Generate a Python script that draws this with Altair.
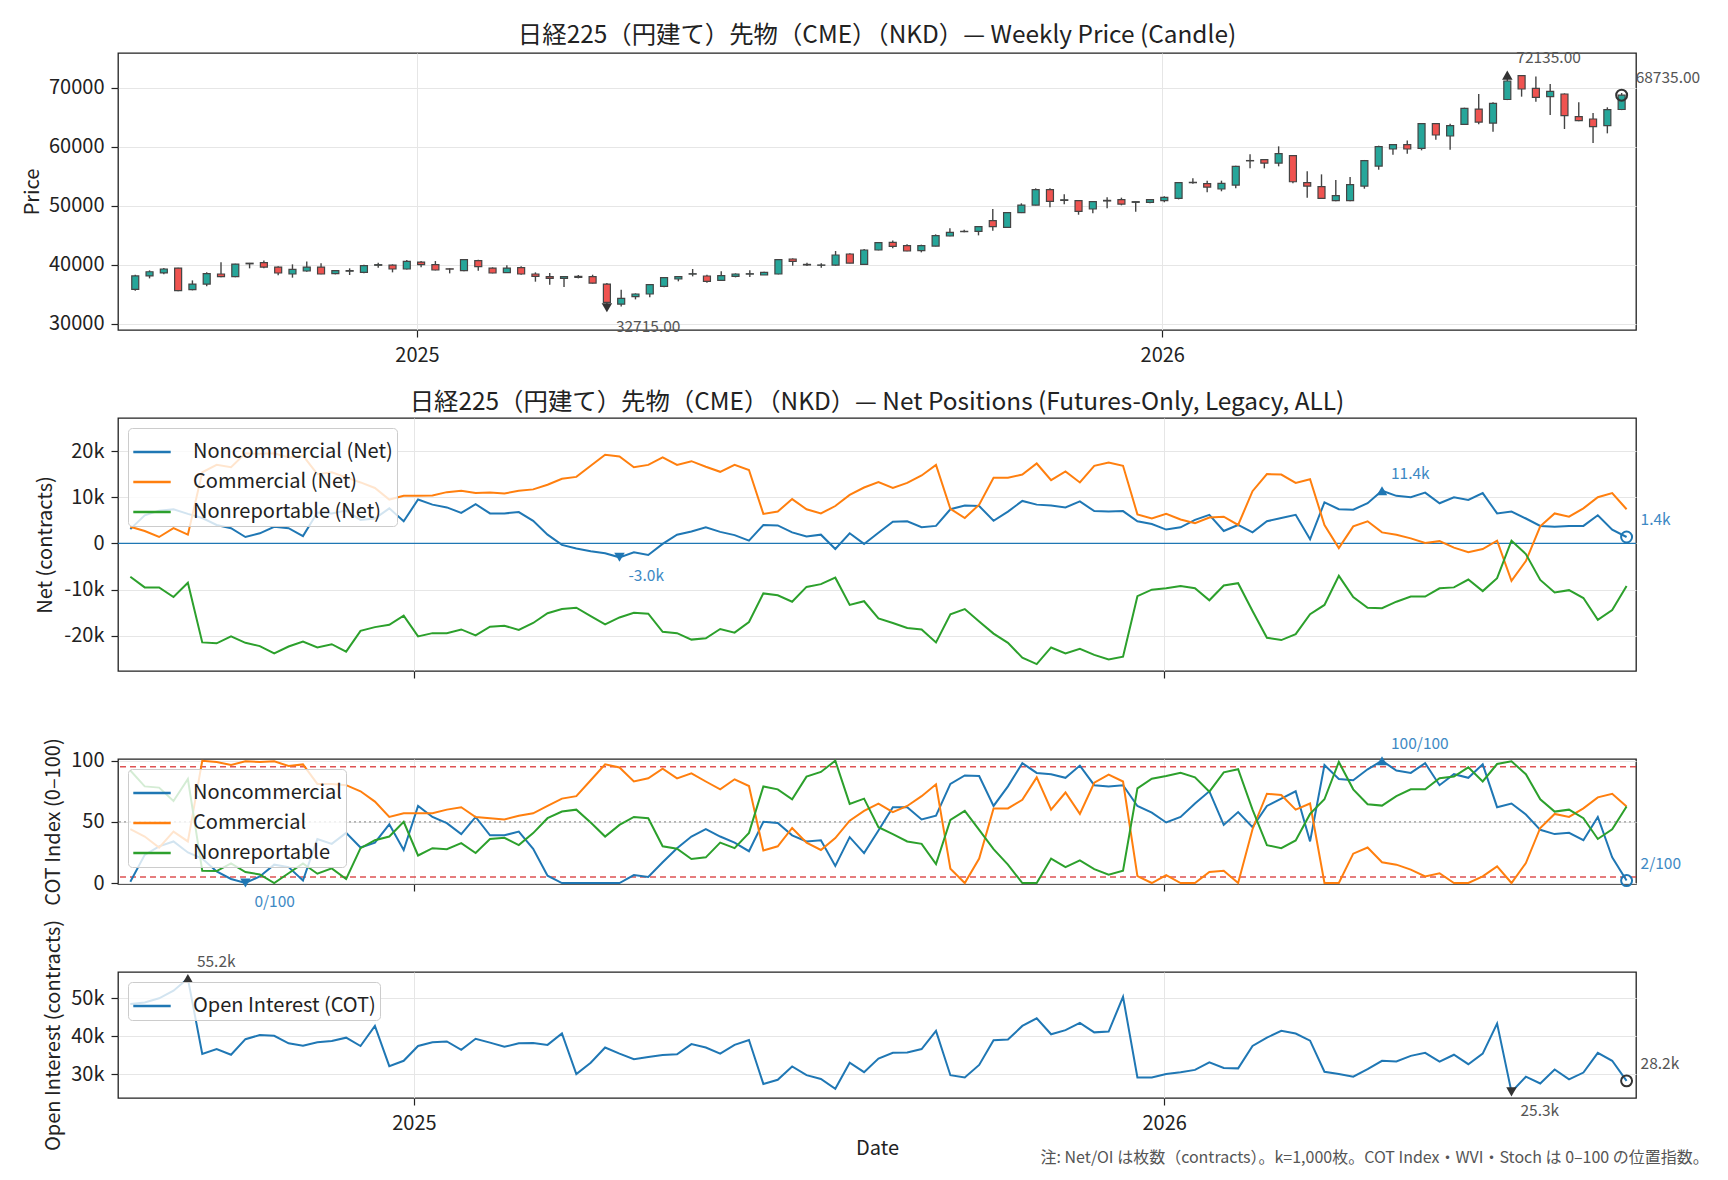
import altair as alt
import numpy as np
import pandas as pd

FONT = "Noto Sans CJK JP"
INK = "#222222"
BLUE, ORANGE, GREEN = "#1f77b4", "#ff7f0e", "#2ca02c"

# ---------------- data ----------------
first_week = "2024-08-16"
n_weeks = 105
dates = pd.date_range(first_week, periods=n_weeks, freq="7D").strftime("%Y-%m-%d").tolist()

price_open = [
    35800, 38100, 38600, 39430, 35760, 36720, 38420, 37970, 40150, 40340,
    39600, 38420, 38930, 39600, 38480, 38900, 38700, 39900, 39940, 39270,
    40450, 40000, 39300, 38980, 40680, 39430, 38640, 39490, 38420, 37970,
    37680, 37850, 37970, 36720, 33300, 34580, 35030, 36330, 37570, 38400,
    38080, 37340, 38020, 38400, 38250, 38420, 40960, 40050, 39900, 39940,
    41810, 40060, 42490, 43790, 43220, 42370, 43160, 44860, 45600, 45650,
    47460, 46330, 48810, 50110, 52710, 50900, 50850, 49440, 50800, 51020,
    50570, 50570, 50850, 51240, 53900, 53730, 52830, 53500, 57600, 57800,
    57230, 58470, 53900, 53220, 50850, 50850, 53330, 56720, 59610, 60340,
    59720, 63900, 61810, 63790, 66380, 64010, 68000, 72040, 69890, 68480,
    68930, 65090, 64690, 63560, 66300]
price_high = [
    38300, 39040, 39430, 39500, 37340, 38700, 40400, 40170, 40300, 40730,
    39720, 40060, 40560, 40230, 39100, 39380, 40000, 40340, 40060, 40790,
    40620, 40620, 39380, 40960, 40850, 39550, 39890, 39720, 38700, 38590,
    37970, 38250, 38300, 36900, 35760, 35140, 36720, 37910, 38020, 39270,
    38300, 38870, 38530, 39040, 38810, 40960, 41070, 40340, 40230, 42320,
    41920, 42660, 43840, 44120, 43450, 43390, 45140, 46160, 45930, 46550,
    49440, 48920, 50400, 52940, 52940, 51920, 50960, 50790, 51410, 51360,
    50680, 51130, 51580, 54010, 54630, 54240, 54240, 56780, 58700, 57910,
    60060, 58590, 55820, 55310, 54350, 54860, 57750, 60170, 60450, 61070,
    64010, 64010, 63900, 66610, 68930, 67520, 72135, 72100, 71900, 70620,
    69040, 67520, 65710, 66670, 69100]
price_low = [
    35600, 37680, 38360, 35480, 35650, 36330, 37850, 37850, 39380, 39380,
    38190, 37800, 38800, 38360, 38360, 38250, 38530, 39490, 38700, 39200,
    39550, 39040, 38530, 38870, 38980, 38530, 38590, 38300, 37120, 36610,
    36210, 37680, 36800, 32715, 32900, 34120, 34460, 36160, 37180, 38020,
    36950, 37290, 37850, 37910, 38250, 38360, 39830, 39770, 39490, 39830,
    40230, 40000, 42430, 42770, 42260, 42090, 43110, 44800, 45480, 44970,
    45760, 46270, 48750, 50060, 49720, 50230, 48470, 48700, 49550, 50060,
    48980, 50400, 50570, 51070, 53730, 52260, 52440, 52940, 56330, 56330,
    56670, 53790, 51360, 51180, 50740, 50740, 52880, 56100, 58640, 58810,
    59380, 61190, 59490, 63680, 63790, 62550, 67900, 68480, 67630, 65370,
    63000, 64300, 60620, 62260, 66200]
price_close = [
    38100, 38800, 39270, 35600, 36720, 38470, 37970, 40110, 40250, 39600,
    38590, 39210, 39600, 38420, 38980, 39000, 39830, 40000, 39270, 40560,
    40000, 39100, 39250, 40850, 39660, 38590, 39430, 38420, 38020, 37680,
    37970, 38020, 36890, 33600, 34290, 35030, 36610, 37800, 37970, 38470,
    37180, 38140, 38420, 38470, 38700, 40850, 40560, 39950, 39950, 41640,
    40280, 42490, 43730, 43110, 42320, 43220, 44920, 45480, 45650, 46440,
    46440, 48810, 50110, 52710, 50740, 51000, 49040, 50680, 50900, 50280,
    50680, 51020, 51410, 53900, 53960, 53160, 53790, 56670, 57650, 57230,
    58810, 54060, 53330, 51240, 51700, 53560, 57630, 60000, 60340, 59610,
    63900, 61980, 63560, 66500, 64180, 67350, 71130, 69780, 68360, 69380,
    65255, 64410, 63390, 66270, 68735]

# net positions, thousands of contracts
net_noncomm_k = [
    3.1, 6.1, 7.1, 7.4, 6.4, 5.5, 4.0, 3.3, 1.4, 2.2,
    3.6, 3.3, 1.6, 6.7, 6.5, 7.1, 5.1, 5.4, 7.6, 4.8,
    9.5, 8.4, 7.8, 6.6, 8.5, 6.5, 6.5, 6.8, 4.9, 1.9,
    -0.3, -1.1, -1.7, -2.1, -3.0, -1.9, -2.5, -0.1, 1.9, 2.6,
    3.5, 2.5, 1.8, 0.6, 4.0, 3.9, 2.4, 1.5, 1.9, -1.2,
    2.2, -0.1, 2.3, 4.7, 4.8, 3.5, 3.8, 7.4, 8.2, 8.1,
    4.9, 6.9, 9.2, 8.4, 8.2, 7.8, 9.1, 7.0, 6.9, 7.0,
    4.8, 4.2, 3.0, 3.5, 5.1, 6.2, 2.7, 4.0, 2.4, 4.8,
    5.5, 6.2, 0.9, 8.9, 7.4, 7.3, 8.7, 11.4, 10.3, 10.0,
    11.0, 8.7, 10.0, 9.4, 10.9, 6.5, 6.9, 5.4, 3.8, 3.6,
    3.8, 3.8, 6.1, 3.0, 1.4]
net_comm_k = [
    3.6, 2.7, 1.4, 3.3, 1.9, 15.4, 17.0, 16.5, 19.5, 19.4,
    19.5, 18.6, 19.0, 15.0, 15.4, 14.3, 13.2, 12.0, 9.5, 10.3,
    10.3, 10.4, 11.1, 11.4, 10.9, 11.0, 10.8, 11.4, 11.7, 12.7,
    14.0, 14.4, 16.8, 19.2, 18.8, 16.5, 17.0, 18.6, 17.0, 17.8,
    16.6, 15.5, 17.0, 15.9, 6.4, 6.9, 9.6, 7.4, 6.5, 8.1,
    10.5, 12.1, 13.3, 12.0, 13.1, 14.7, 17.0, 7.5, 5.5, 8.4,
    14.2, 14.2, 14.9, 17.3, 13.7, 15.6, 13.2, 16.8, 17.5, 16.8,
    6.3, 5.4, 6.4, 5.2, 4.4, 5.6, 5.8, 4.0, 11.3, 15.0,
    14.9, 13.1, 13.9, 4.0, -1.0, 3.7, 4.8, 2.4, 1.9, 1.1,
    0.1, 0.5, -0.9, -1.9, -1.2, 0.6, -8.1, -3.8, 3.7, 6.5,
    5.8, 7.6, 10.0, 10.9, 7.4]
net_nonrep_k = [
    -7.2, -9.5, -9.5, -11.6, -8.5, -21.4, -21.6, -20.1, -21.5, -22.2,
    -23.8, -22.3, -21.2, -22.5, -21.8, -23.4, -18.9, -18.1, -17.6, -15.6,
    -20.1, -19.4, -19.4, -18.6, -19.9, -18.0, -17.8, -18.7, -17.2, -15.1,
    -14.2, -13.9, -15.7, -17.5, -16.0, -15.0, -15.2, -19.1, -19.4, -20.8,
    -20.5, -18.5, -19.3, -17.0, -10.8, -11.2, -12.6, -9.4, -8.8, -7.4,
    -13.3, -12.5, -16.2, -17.2, -18.3, -18.6, -21.4, -15.3, -14.2, -16.9,
    -19.5, -21.5, -24.7, -26.1, -22.5, -23.8, -22.8, -24.1, -25.1, -24.5,
    -11.4, -10.0, -9.7, -9.2, -9.7, -12.3, -9.1, -8.6, -14.6, -20.4,
    -20.9, -19.6, -15.3, -13.3, -7.0, -11.6, -13.9, -14.0, -12.6, -11.5,
    -11.5, -9.7, -9.5, -7.8, -10.3, -7.5, 0.6, -2.3, -7.9, -10.6,
    -10.1, -11.8, -16.5, -14.4, -9.2]

# COT index 0-100
idx_noncomm = [
    1, 23, 30, 34, 25, 20, 9.5, 3.3, 0, 5.4,
    15, 13, 2, 36, 32, 41, 29, 33, 48, 27,
    63, 54, 49, 40, 54, 39, 39, 42, 28, 6,
    0, 0, 0, 0, 0, 6.5, 5, 17, 28.5, 38,
    44, 38, 33, 26, 50, 49, 39, 34, 35, 14,
    37.5, 24.5, 43, 62, 62, 52, 55, 81, 88, 87.5,
    63, 79, 98, 90, 89, 86, 96, 80, 79, 80,
    63, 57.6, 49.5, 54, 65, 75, 47.5, 58, 45.7, 63,
    69, 75, 34, 96.5, 85, 84, 93, 100, 92, 90,
    98, 80, 89, 86, 97, 62, 65, 56, 43.5, 40,
    41, 35, 54, 21, 2]
idx_comm = [
    44, 38, 29, 42, 34, 100, 99, 96.5, 99.5, 99,
    99.5, 95.7, 97, 81, 81, 80, 75, 66.6, 54, 57,
    57, 57, 60, 62, 54, 53, 52, 55, 57, 63,
    69, 71, 84, 97, 94.5, 83, 85.6, 93.5, 85.6, 89.7,
    83, 76.6, 84.8, 79.3, 26.6, 30, 45, 33, 27, 36.7,
    51, 59, 65, 58, 63, 71, 80.7, 11.7, 0, 20,
    61, 61, 68, 86.4, 60, 74, 56.5, 82, 88.6, 83,
    5.6, 0, 6.5, 0, 0, 9, 10, 0, 44, 73,
    72, 60, 65, 0, 0, 24, 29, 17, 15, 11,
    5.4, 8, 0, 0, 5.4, 13.6, 0, 16.3, 45, 56.5,
    54, 61, 70, 73, 62.5]
idx_nonrep = [
    92, 79, 78, 67, 85, 10, 9.8, 16, 9, 7,
    0, 8, 16, 7.6, 12, 3.3, 28.5, 35, 38, 50,
    22.5, 28.5, 27.7, 32.6, 24.5, 36, 37, 31, 40.8, 53,
    58.4, 60, 49.5, 38, 47.5, 54, 53, 30, 28, 19.6,
    21, 33, 28.5, 41, 79, 76.6, 68.5, 87, 90.8, 100,
    64.7, 69, 45.7, 40, 34, 32, 15.5, 51.6, 59, 43.5,
    27.7, 15, 0, 0, 20, 13, 18.5, 11.4, 6.8, 10,
    77.4, 85.3, 87.5, 90.2, 86.4, 74.7, 90.5, 93, 60, 31,
    28.5, 34.8, 56.5, 68.5, 99, 76.6, 64.4, 63.3, 71, 76.6,
    76.6, 85.6, 87, 94.6, 83, 97.3, 99.5, 89, 68.5, 58.4,
    60, 53, 36, 44, 62.5]

# open interest, thousands of contracts
open_interest_k = [
    48.5, 48.9, 50.0, 52.0, 55.2, 35.3, 36.6, 35.1, 39.2, 40.3,
    40.1, 38.1, 37.5, 38.4, 38.7, 39.6, 37.4, 42.7, 32.1, 33.5,
    37.4, 38.4, 38.6, 36.4, 39.3, 38.3, 37.2, 38.1, 38.2, 37.7,
    40.7, 30.0, 33.0, 37.0, 35.4, 33.9, 34.5, 35.0, 35.2, 37.9,
    37.0, 35.4, 37.7, 39.0, 27.4, 28.5, 32.0, 29.7, 28.7, 26.1,
    33.0, 30.5, 34.1, 35.6, 35.7, 36.6, 41.4, 29.7, 29.1, 32.4,
    38.9, 39.1, 42.7, 44.7, 40.5, 41.6, 43.5, 41.0, 41.2, 50.4,
    29.1, 29.1, 30.0, 30.5, 31.1, 33.1, 31.6, 31.5, 37.4, 39.6,
    41.4, 40.7, 38.8, 30.6, 30.0, 29.3, 31.3, 33.5, 33.3, 34.8,
    35.6, 33.3, 35.1, 32.6, 35.4, 43.3, 25.3, 29.3, 27.5, 31.2,
    28.6, 30.4, 35.6, 33.5, 28.2]

price_ticks = [30000, 40000, 50000, 60000, 70000]
net_ticks = [-20000, -10000, 0, 10000, 20000]
idx_ticks = [0, 50, 100]
oi_ticks = [30000, 40000, 50000]
idx_band_levels = [5, 95]
idx_mid_level = [50]
net_zero_level = [0]

title_price = "日経225（円建て）先物（CME）（NKD）— Weekly Price (Candle)"
title_net = "日経225（円建て）先物（CME）（NKD）— Net Positions (Futures-Only, Legacy, ALL)"
net_names = ["Noncommercial (Net)", "Commercial (Net)", "Nonreportable (Net)"]
idx_names = ["Noncommercial", "Commercial", "Nonreportable"]
oi_name = "Open Interest (COT)"
footnote = "注: Net/OI は枚数（contracts）。k=1,000枚。COT Index・WVI・Stoch は 0–100 の位置指数。"

for arr in [price_open, price_high, price_low, price_close, net_noncomm_k, net_comm_k,
            net_nonrep_k, idx_noncomm, idx_comm, idx_nonrep, open_interest_k]:
    assert len(arr) == n_weeks, len(arr)

# ---------------- tables ----------------
candles = pd.DataFrame({"date": dates, "open": price_open, "high": price_high,
                        "low": price_low, "close": price_close})
candles["dir"] = np.where(candles["close"] >= candles["open"], "up", "down")

net_noncomm = [v * 1000 for v in net_noncomm_k]
net_comm = [v * 1000 for v in net_comm_k]
net_nonrep = [v * 1000 for v in net_nonrep_k]
open_interest = [v * 1000 for v in open_interest_k]

net_long = pd.concat([
    pd.DataFrame({"date": dates, "series": nm, "v": vals})
    for nm, vals in zip(net_names, [net_noncomm, net_comm, net_nonrep])])
idx_long = pd.concat([
    pd.DataFrame({"date": dates, "series": nm, "v": vals})
    for nm, vals in zip(idx_names, [idx_noncomm, idx_comm, idx_nonrep])])
oi_df = pd.DataFrame({"date": dates, "series": oi_name, "v": open_interest})


def point(i, val, label):
    return pd.DataFrame({"date": [dates[i]], "v": [val], "label": [label]})


last = n_weeks - 1
i_hi = int(np.argmax(price_high))
i_lo = int(np.argmin(price_low))
px_hi = point(i_hi, price_high[i_hi], f"{price_high[i_hi]:.2f}")
px_lo = point(i_lo, price_low[i_lo], f"{price_low[i_lo]:.2f}")
px_last = point(last, price_close[last], f"{price_close[last]:.2f}")

j_hi = int(np.argmax(net_noncomm))
j_lo = int(np.argmin(net_noncomm))
net_hi = point(j_hi, net_noncomm[j_hi], f"{net_noncomm[j_hi] / 1000:.1f}k")
net_lo = point(j_lo, net_noncomm[j_lo], f"{net_noncomm[j_lo] / 1000:.1f}k")
net_last = point(last, net_noncomm[last], f"{net_noncomm[last] / 1000:.1f}k")

k_hi = int(np.argmax(idx_noncomm))
k_lo = int(np.argmin(idx_noncomm))
idx_hi = point(k_hi, idx_noncomm[k_hi], f"{idx_noncomm[k_hi]:.0f}/100")
idx_lo = point(k_lo, idx_noncomm[k_lo], f"{idx_noncomm[k_lo]:.0f}/100")
idx_last = point(last, idx_noncomm[last], f"{idx_noncomm[last]:.0f}/100")

m_hi = int(np.argmax(open_interest))
m_lo = int(np.argmin(open_interest))
oi_hi = point(m_hi, open_interest[m_hi], f"{open_interest[m_hi] / 1000:.1f}k")
oi_lo = point(m_lo, open_interest[m_lo], f"{open_interest[m_lo] / 1000:.1f}k")
oi_last = point(last, open_interest[last], f"{open_interest[last] / 1000:.1f}k")

# ---------------- encodings ----------------
W = 1518
x_scale = alt.Scale(type="utc", domain=[
    alt.DateTime(year=2024, month=8, date=10, utc=True),
    alt.DateTime(year=2026, month=8, date=18, hours=14, utc=True)])
year_ticks = [alt.DateTime(year=2025, month=1, date=1, utc=True),
              alt.DateTime(year=2026, month=1, date=1, utc=True)]


def xenc(labels, title=""):
    kw = dict(values=year_ticks, format="%Y", labels=labels, grid=True,
              tickSize=7, labelPadding=8, titlePadding=5)
    kw["title"] = title if title else None
    return alt.X("date:T", scale=x_scale, axis=alt.Axis(**kw))


def yaxis(title, values, title_center, label_expr=""):
    kw = dict(values=values, title=title, titleX=title_center + 10,
              titleBaseline="bottom", grid=True, tickSize=7, labelPadding=7)
    if label_expr:
        kw["labelExpr"] = label_expr
    else:
        kw["format"] = "d"
    return alt.Axis(**kw)


price_scale = alt.Scale(domain=[28930, 75880], zero=False, nice=False)
price_axis = yaxis("Price", price_ticks, -86)
net_scale = alt.Scale(domain=[-27590, 27140], zero=False, nice=False)
net_axis = yaxis("Net (contracts)", net_ticks, -73,
                 "datum.value == 0 ? '0' : (datum.value / 1000) + 'k'")
idx_scale = alt.Scale(domain=[-0.8, 101.4], zero=False, nice=False)
idx_axis = yaxis("COT Index (0–100)", idx_ticks, -65)
oi_scale = alt.Scale(domain=[23680, 56930], zero=False, nice=False)
oi_axis = yaxis("Open Interest (contracts)", oi_ticks, -65, "(datum.value / 1000) + 'k'")


def legend_box():
    return alt.Legend(title=None, orient="none", legendX=10, legendY=10,
                      direction="vertical", fillColor="rgba(255,255,255,0.8)",
                      strokeColor="#cccccc", cornerRadius=4, padding=4,
                      rowPadding=0, symbolType="stroke", symbolSize=1400,
                      symbolStrokeWidth=2.5, labelFontSize=20, labelOffset=21,
                      labelLimit=400, labelFont=FONT, labelColor=INK)


def panel_title(text):
    return alt.TitleParams(text=text, anchor="middle", frame="group", offset=3,
                           fontSize=24.4, font=FONT, fontWeight="normal", color=INK)


def markers(hi, lo, lst, X, sc, ax, mcolor, tcolor):
    y = alt.Y("v:Q", scale=sc, axis=ax)
    txt = dict(align="left", baseline="middle", fontSize=15.5, font=FONT, color=tcolor)
    return [
        alt.Chart(hi).mark_point(shape="triangle-up", filled=True, size=110,
                                 color=mcolor, opacity=1).encode(x=X, y=y),
        alt.Chart(hi).mark_text(dx=9, dy=-17, **txt).encode(x=X, y=y, text="label:N"),
        alt.Chart(lo).mark_point(shape="triangle-down", filled=True, size=110,
                                 color=mcolor, opacity=1).encode(x=X, y=y),
        alt.Chart(lo).mark_text(dx=9, dy=19, **txt).encode(x=X, y=y, text="label:N"),
        alt.Chart(lst).mark_point(shape="circle", filled=False, size=120,
                                  color=mcolor, strokeWidth=2, opacity=1).encode(x=X, y=y),
        alt.Chart(lst).mark_text(dx=14, dy=-17, **txt).encode(x=X, y=y, text="label:N"),
    ]


# ---------------- panel 1: candles ----------------
X1 = xenc(True)
wick = alt.Chart(candles).mark_rule(color="#444444", strokeWidth=1.4).encode(
    x=X1, y=alt.Y("low:Q", scale=price_scale, axis=price_axis), y2="high:Q")
body = alt.Chart(candles).mark_bar(size=7, stroke="#444444", strokeWidth=1.2).encode(
    x=X1, y=alt.Y("open:Q", scale=price_scale, axis=price_axis), y2="close:Q",
    color=alt.Color("dir:N", scale=alt.Scale(domain=["up", "down"],
                                             range=["#26a69a", "#ef5350"]), legend=None))
p1 = alt.layer(wick, body, *markers(px_hi, px_lo, px_last, X1, price_scale, price_axis,
                                    "#333333", "#555555")).properties(
    width=W, height=277, title=panel_title(title_price))

# ---------------- panel 2: net positions ----------------
X2 = xenc(False)
zero_rule = alt.Chart(pd.DataFrame({"v": net_zero_level})).mark_rule(
    color=BLUE, strokeWidth=1.3).encode(y=alt.Y("v:Q", scale=net_scale, axis=net_axis))
net_lines = alt.Chart(net_long).mark_line(strokeWidth=2).encode(
    x=X2, y=alt.Y("v:Q", scale=net_scale, axis=net_axis),
    color=alt.Color("series:N", scale=alt.Scale(domain=net_names, range=[BLUE, ORANGE, GREEN]),
                    sort=net_names, legend=legend_box()))
p2 = alt.layer(zero_rule, net_lines, *markers(net_hi, net_lo, net_last, X2, net_scale, net_axis,
                                             BLUE, "#3d89c4")).properties(
    width=W, height=253, title=panel_title(title_net))

# ---------------- panel 3: COT index ----------------
X3 = xenc(False)
bands = alt.Chart(pd.DataFrame({"v": idx_band_levels})).mark_rule(
    color="#d62728", strokeWidth=1.5, strokeDash=[6, 4], opacity=0.8).encode(
    y=alt.Y("v:Q", scale=idx_scale, axis=idx_axis))
mid = alt.Chart(pd.DataFrame({"v": idx_mid_level})).mark_rule(
    color="#999999", strokeWidth=1.2, strokeDash=[2, 3]).encode(
    y=alt.Y("v:Q", scale=idx_scale, axis=idx_axis))
idx_lines = alt.Chart(idx_long).mark_line(strokeWidth=2).encode(
    x=X3, y=alt.Y("v:Q", scale=idx_scale, axis=idx_axis),
    color=alt.Color("series:N", scale=alt.Scale(domain=idx_names, range=[BLUE, ORANGE, GREEN]),
                    sort=idx_names, legend=legend_box()))
p3 = alt.layer(bands, mid, idx_lines, *markers(idx_hi, idx_lo, idx_last, X3, idx_scale, idx_axis,
                                              BLUE, "#3d89c4")).properties(width=W, height=125)

# ---------------- panel 4: open interest ----------------
X4 = xenc(True, "Date")
oi_line = alt.Chart(oi_df).mark_line(strokeWidth=2).encode(
    x=X4, y=alt.Y("v:Q", scale=oi_scale, axis=oi_axis),
    color=alt.Color("series:N", scale=alt.Scale(domain=[oi_name], range=[BLUE]),
                    legend=legend_box()))
p4 = alt.layer(oi_line, *markers(oi_hi, oi_lo, oi_last, X4, oi_scale, oi_axis,
                                 "#333333", "#555555")).properties(width=W, height=126)

chart = alt.vconcat(
    p1, p2, p3, p4, spacing=88, bounds="flush",
    title=alt.TitleParams(text=footnote, orient="bottom", anchor="end", frame="bounds",
                          fontSize=16, font=FONT, fontWeight="normal", color="#555555",
                          offset=-9, dx=8)
).resolve_scale(color="independent").properties(
    padding={"left": 13, "top": 14, "right": 0, "bottom": 5}
).configure_view(stroke=INK, strokeWidth=1.3).configure_axis(
    labelFont=FONT, titleFont=FONT, labelFontSize=20, titleFontSize=20,
    labelColor=INK, titleColor=INK, titleFontWeight="normal", tickColor=INK,
    tickWidth=1.2, domain=False, gridColor="#e6e6e6", gridWidth=1
).configure_text(font=FONT)

chart.save("out.html", embed_options={"renderer": "svg", "actions": False})
